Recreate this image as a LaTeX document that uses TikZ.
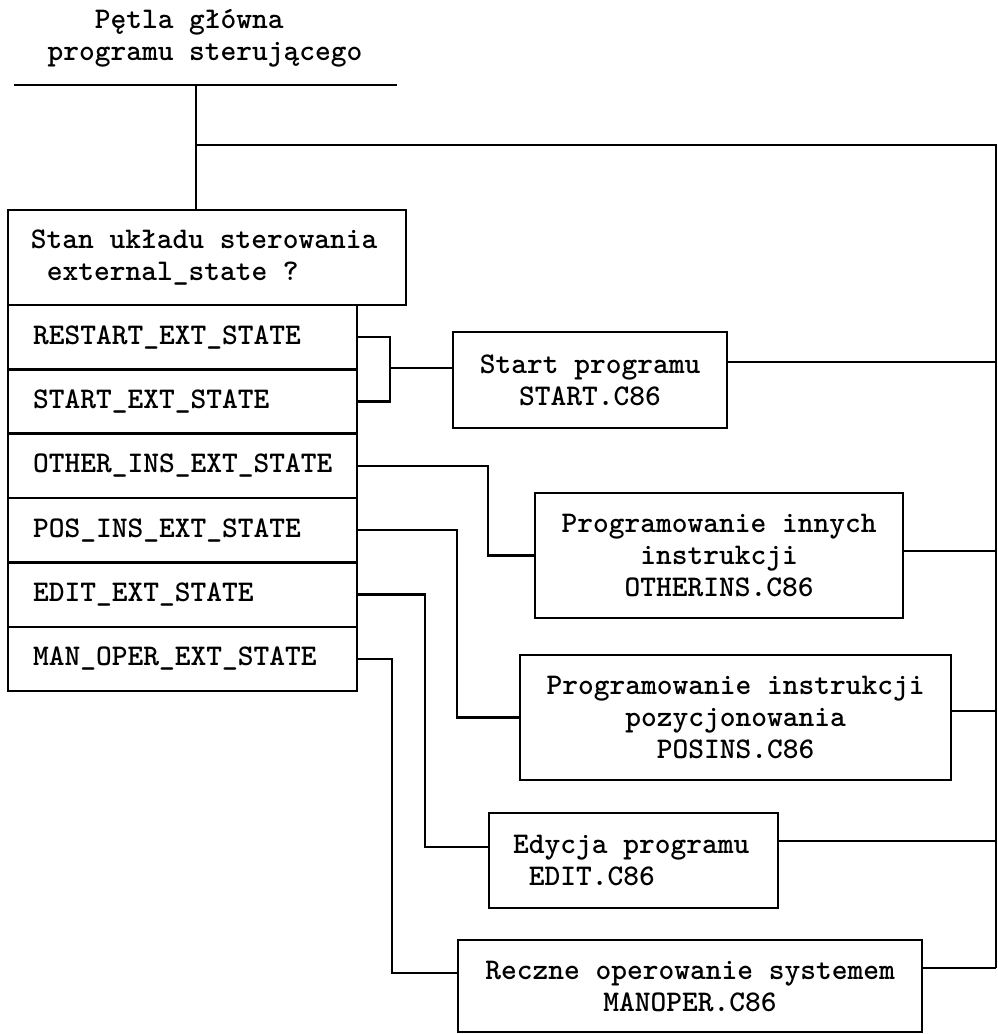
\documentclass[tikz,border=0pt]{standalone}
\usepackage{fontspec}
\usetikzlibrary{positioning}

\newcommand\mytt{\fontsize{15}{16}\ttfamily\bfseries\selectfont}

\begin{document}
\begin{tikzpicture}
  [x=0.5pt,y=-0.5pt,line width=1.2pt,
   box/.style={draw,rectangle,inner sep=0pt,outer sep=0pt,font=\mytt},
   rowbox/.style={box,minimum height=32.17pt,inner xsep=12.5pt,
     text width=149.5pt,align=flush left},
   modbox/.style={box,align=flush center}]

  \useasboundingbox (0,0) rectangle (997,1034);

  % naglowek
  \node[align=left,font=\mytt] (title) at (205,38)
    {\hphantom{xxx}Pętla główna\\programu sterującego};
  \coordinate (tl) at (14,85);
  \coordinate (tr) at (397,85);
  \coordinate (trunk) at (196,85);
  \coordinate (bus) at (996,145);
  \coordinate (busend) at (996,968);

  % pytanie o stan
  \node[box,inner xsep=11.5pt,text width=176pt,minimum height=47.5pt,align=flush left]
    (state) at (207,257.5) {Stan układu sterowania\\\hphantom{x}external\_state ?};

  \node[rowbox,below right=0pt and 0pt of state.south west] (restart) {RESTART\_EXT\_STATE};
  \node[rowbox,below=0pt of restart] (startext) {START\_EXT\_STATE};
  \node[rowbox,below=0pt of startext] (otherext) {OTHER\_INS\_EXT\_STATE};
  \node[rowbox,below=0pt of otherext] (posext) {POS\_INS\_EXT\_STATE};
  \node[rowbox,below=0pt of posext] (editext) {EDIT\_EXT\_STATE};
  \node[rowbox,below=0pt of editext] (manext) {MAN\_OPER\_EXT\_STATE};

  % moduly
  \node[modbox,minimum width=137pt,minimum height=48pt] (start) at (590,380)
    {Start programu\\START.C86};
  \node[modbox,minimum width=184pt,minimum height=62.5pt] (otherins) at (719,555.5)
    {Programowanie innych\\instrukcji\\OTHERINS.C86};
  \node[modbox,minimum width=215.5pt,minimum height=62.5pt] (posins) at (735.5,717.5)
    {Programowanie instrukcji\\pozycjonowania\\POSINS.C86};
  \node[box,inner xsep=12pt,text width=120.5pt,minimum height=47.5pt,align=flush left]
    (edit) at (633.5,860.5) {Edycja programu\\\hphantom{x}EDIT.C86};
  \node[modbox,minimum width=232pt,minimum height=46pt] (man) at (690,986)
    {Reczne operowanie systemem\\MANOPER.C86};

  \coordinate (brk) at (390,368);
  \coordinate (k4) at (425,847);
  \coordinate (k5) at (392,973);
  \coordinate (o1) at (996,362);
  \coordinate (o2) at (996,551);
  \coordinate (o3) at (996,711);
  \coordinate (o4) at (996,841);
  \coordinate (o5) at (996,968);

  \draw (tl) -- (tr);
  \draw (trunk) -- (trunk |- state.north);
  \draw (trunk |- bus) -- (bus) -- (busend);

  \draw (restart.east) -| (brk) |- (startext.east);
  \draw (brk) -- (brk -| start.west);
  \draw (otherext.east) -- ++(131,0) |- (otherins.west);
  \draw (posext.east) -- ++(100,0) |- (posins.west);
  \draw (editext.east) -| (k4) -- (k4 -| edit.west);
  \draw (manext.east) -| (k5) -- (k5 -| man.west);

  \draw (o1 -| start.east) -- (o1);
  \draw (o2 -| otherins.east) -- (o2);
  \draw (o3 -| posins.east) -- (o3);
  \draw (o4 -| edit.east) -- (o4);
  \draw (o5 -| man.east) -- (o5);

\end{tikzpicture}
\end{document}
